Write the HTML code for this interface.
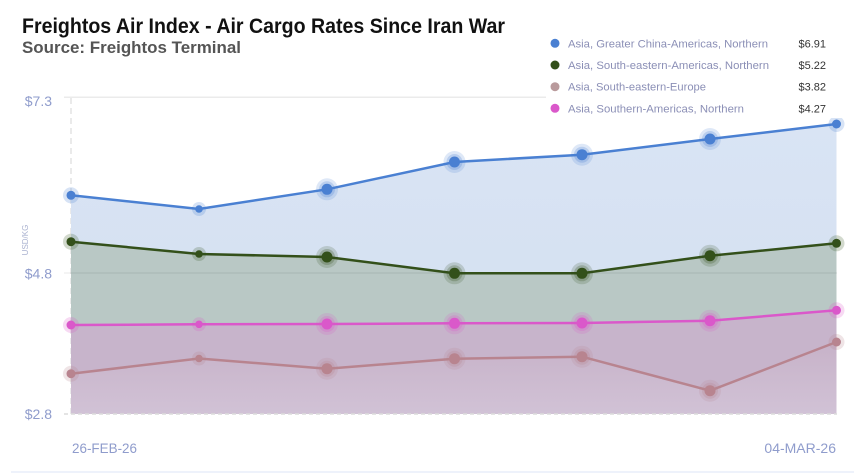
<!DOCTYPE html>
<html><head><meta charset="utf-8"><style>
html,body{margin:0;padding:0;background:#fff;}
svg{display:block;}
</style></head><body>
<svg width="854" height="476" viewBox="0 0 854 476" xmlns="http://www.w3.org/2000/svg">
<defs>
<linearGradient id="gm" x1="0" y1="0" x2="0" y2="1">
<stop offset="0" stop-color="#c7b2c8"/><stop offset="1" stop-color="#d1c2d6"/>
</linearGradient>
<linearGradient id="gb" x1="0" y1="0" x2="0" y2="1">
<stop offset="0" stop-color="#d9e4f4"/><stop offset="1" stop-color="#d3dff0"/>
</linearGradient>
</defs>
<rect width="854" height="476" fill="#fff"/>
<!-- title -->
<text x="22" y="33" font-family="Liberation Sans, sans-serif" font-weight="bold" font-size="21" fill="#111" textLength="483" lengthAdjust="spacingAndGlyphs">Freightos Air Index - Air Cargo Rates Since Iran War</text>
<text x="22" y="53" font-family="Liberation Sans, sans-serif" font-weight="bold" font-size="16.5" fill="#555" textLength="219" lengthAdjust="spacingAndGlyphs">Source: Freightos Terminal</text>

<!-- top gridline -->
<line x1="64" y1="97.3" x2="854" y2="97.3" stroke="#ebebeb" stroke-width="1.5"/>
<!-- vertical dashed -->
<line x1="71" y1="98" x2="71" y2="414" stroke="#e4e4e4" stroke-width="1.5" stroke-dasharray="6,4"/>

<!-- areas -->
<polygon fill="url(#gb)" points="71,195.3 199,209 327,189.3 454.5,162 582,154.7 710,139 836.5,124 836.5,414 71,414"/>
<polygon fill="#b9c8c5" points="71,241.7 199,254 327,257 454.5,273.3 582,273.3 710,255.7 836.5,243.3 836.5,414 71,414"/>
<polygon fill="#c7b4cb" points="71,325 199,324.3 327,324 454.5,323.3 582,323 710,320.7 836.5,310.3 836.5,414 71,414"/>
<polygon fill="url(#gm)" points="71,373.7 199,358.5 327,368.7 454.5,358.7 582,356.7 710,390.7 836.5,342 836.5,414 71,414"/>

<!-- 4.8 gridline -->
<line x1="64" y1="273" x2="837" y2="273" stroke="rgba(0,0,0,0.06)" stroke-width="1.5"/>
<!-- bottom dashed -->
<line x1="64" y1="414" x2="837" y2="414" stroke="#dcdcdc" stroke-width="1.5" stroke-dasharray="4,3"/>

<!-- lines -->
<polyline fill="none" stroke="#b8848f" stroke-width="2.5" points="71,373.7 199,358.5 327,368.7 454.5,358.7 582,356.7 710,390.7 836.5,342"/>
<polyline fill="none" stroke="#da58ca" stroke-width="2.5" points="71,325 199,324.3 327,324 454.5,323.3 582,323 710,320.7 836.5,310.3"/>
<polyline fill="none" stroke="#33501a" stroke-width="2.5" points="71,241.7 199,254 327,257 454.5,273.3 582,273.3 710,255.7 836.5,243.3"/>
<polyline fill="none" stroke="#4a80d2" stroke-width="2.5" points="71,195.3 199,209 327,189.3 454.5,162 582,154.7 710,139 836.5,124"/>

<!-- markers: blue -->
<g fill="#4a80d2">
<circle cx="71" cy="195.3" r="8" opacity="0.22"/><circle cx="71" cy="195.3" r="4.5"/>
<circle cx="199" cy="209" r="7" opacity="0.22"/><circle cx="199" cy="209" r="3.8"/>
<circle cx="327" cy="189.3" r="11" opacity="0.18"/><circle cx="327" cy="189.3" r="8" opacity="0.25"/><circle cx="327" cy="189.3" r="5.5"/>
<circle cx="454.5" cy="162" r="11" opacity="0.18"/><circle cx="454.5" cy="162" r="8" opacity="0.25"/><circle cx="454.5" cy="162" r="5.5"/>
<circle cx="582" cy="154.7" r="11" opacity="0.18"/><circle cx="582" cy="154.7" r="8" opacity="0.25"/><circle cx="582" cy="154.7" r="5.5"/>
<circle cx="710" cy="139" r="11" opacity="0.18"/><circle cx="710" cy="139" r="8" opacity="0.25"/><circle cx="710" cy="139" r="5.5"/>
<circle cx="836.5" cy="124" r="8" opacity="0.22"/><circle cx="836.5" cy="124" r="4.5"/>
</g>
<!-- green -->
<g fill="#33501a">
<circle cx="71" cy="241.7" r="8" opacity="0.22"/><circle cx="71" cy="241.7" r="4.5"/>
<circle cx="199" cy="254" r="7" opacity="0.22"/><circle cx="199" cy="254" r="3.8"/>
<circle cx="327" cy="257" r="11" opacity="0.18"/><circle cx="327" cy="257" r="8" opacity="0.25"/><circle cx="327" cy="257" r="5.5"/>
<circle cx="454.5" cy="273.3" r="11" opacity="0.18"/><circle cx="454.5" cy="273.3" r="8" opacity="0.25"/><circle cx="454.5" cy="273.3" r="5.5"/>
<circle cx="582" cy="273.3" r="11" opacity="0.18"/><circle cx="582" cy="273.3" r="8" opacity="0.25"/><circle cx="582" cy="273.3" r="5.5"/>
<circle cx="710" cy="255.7" r="11" opacity="0.18"/><circle cx="710" cy="255.7" r="8" opacity="0.25"/><circle cx="710" cy="255.7" r="5.5"/>
<circle cx="836.5" cy="243.3" r="8" opacity="0.22"/><circle cx="836.5" cy="243.3" r="4.5"/>
</g>
<!-- magenta -->
<g fill="#da58ca">
<circle cx="71" cy="325" r="8" opacity="0.22"/><circle cx="71" cy="325" r="4.5"/>
<circle cx="199" cy="324.3" r="7" opacity="0.22"/><circle cx="199" cy="324.3" r="3.8"/>
<circle cx="327" cy="324" r="11" opacity="0.18"/><circle cx="327" cy="324" r="8" opacity="0.25"/><circle cx="327" cy="324" r="5.5"/>
<circle cx="454.5" cy="323.3" r="11" opacity="0.18"/><circle cx="454.5" cy="323.3" r="8" opacity="0.25"/><circle cx="454.5" cy="323.3" r="5.5"/>
<circle cx="582" cy="323" r="11" opacity="0.18"/><circle cx="582" cy="323" r="8" opacity="0.25"/><circle cx="582" cy="323" r="5.5"/>
<circle cx="710" cy="320.7" r="11" opacity="0.18"/><circle cx="710" cy="320.7" r="8" opacity="0.25"/><circle cx="710" cy="320.7" r="5.5"/>
<circle cx="836.5" cy="310.3" r="8" opacity="0.22"/><circle cx="836.5" cy="310.3" r="4.5"/>
</g>
<!-- mauve -->
<g fill="#b8848f">
<circle cx="71" cy="373.7" r="8" opacity="0.22"/><circle cx="71" cy="373.7" r="4.5"/>
<circle cx="199" cy="358.5" r="7" opacity="0.22"/><circle cx="199" cy="358.5" r="3.8"/>
<circle cx="327" cy="368.7" r="11" opacity="0.18"/><circle cx="327" cy="368.7" r="8" opacity="0.25"/><circle cx="327" cy="368.7" r="5.5"/>
<circle cx="454.5" cy="358.7" r="11" opacity="0.18"/><circle cx="454.5" cy="358.7" r="8" opacity="0.25"/><circle cx="454.5" cy="358.7" r="5.5"/>
<circle cx="582" cy="356.7" r="11" opacity="0.18"/><circle cx="582" cy="356.7" r="8" opacity="0.25"/><circle cx="582" cy="356.7" r="5.5"/>
<circle cx="710" cy="390.7" r="11" opacity="0.18"/><circle cx="710" cy="390.7" r="8" opacity="0.25"/><circle cx="710" cy="390.7" r="5.5"/>
<circle cx="836.5" cy="342" r="8" opacity="0.22"/><circle cx="836.5" cy="342" r="4.5"/>
</g>

<!-- y axis labels -->
<g font-family="Liberation Sans, sans-serif" font-size="14" fill="#8f9ccc" text-anchor="end">
<text x="52" y="106">$7.3</text>
<text x="52" y="278.5">$4.8</text>
<text x="52" y="419">$2.8</text>
</g>
<text transform="translate(28,240) rotate(-90)" font-family="Liberation Sans, sans-serif" font-size="8" fill="#aab2d0" text-anchor="middle">USD/KG</text>

<!-- x labels -->
<g font-family="Liberation Sans, sans-serif" font-size="14" fill="#8f9ccc">
<text x="72" y="453" textLength="65" lengthAdjust="spacingAndGlyphs">26-FEB-26</text>
<text x="836" y="453" text-anchor="end">04-MAR-26</text>
</g>

<!-- legend -->
<rect x="546" y="30" width="308" height="88" fill="#fff"/>
<g font-family="Liberation Sans, sans-serif" font-size="11">
<circle cx="555" cy="43.3" r="4.5" fill="#4a80d2"/>
<text x="568" y="47.3" fill="#8b8fb6" textLength="200" lengthAdjust="spacingAndGlyphs">Asia, Greater China-Americas, Northern</text>
<text x="826" y="47.3" fill="#333" text-anchor="end">$6.91</text>
<circle cx="555" cy="65" r="4.5" fill="#33501a"/>
<text x="568" y="69" fill="#8b8fb6" textLength="201" lengthAdjust="spacingAndGlyphs">Asia, South-eastern-Americas, Northern</text>
<text x="826" y="69" fill="#333" text-anchor="end">$5.22</text>
<circle cx="555" cy="86.7" r="4.5" fill="#b99a9c"/>
<text x="568" y="90.7" fill="#8b8fb6" textLength="138" lengthAdjust="spacingAndGlyphs">Asia, South-eastern-Europe</text>
<text x="826" y="90.7" fill="#333" text-anchor="end">$3.82</text>
<circle cx="555" cy="108.3" r="4.5" fill="#da58ca"/>
<text x="568" y="112.3" fill="#8b8fb6" textLength="176" lengthAdjust="spacingAndGlyphs">Asia, Southern-Americas, Northern</text>
<text x="826" y="112.3" fill="#333" text-anchor="end">$4.27</text>
</g>

<!-- bottom border -->
<line x1="11" y1="472" x2="854" y2="472" stroke="#eef2fb" stroke-width="2"/>
</svg>
</body></html>
